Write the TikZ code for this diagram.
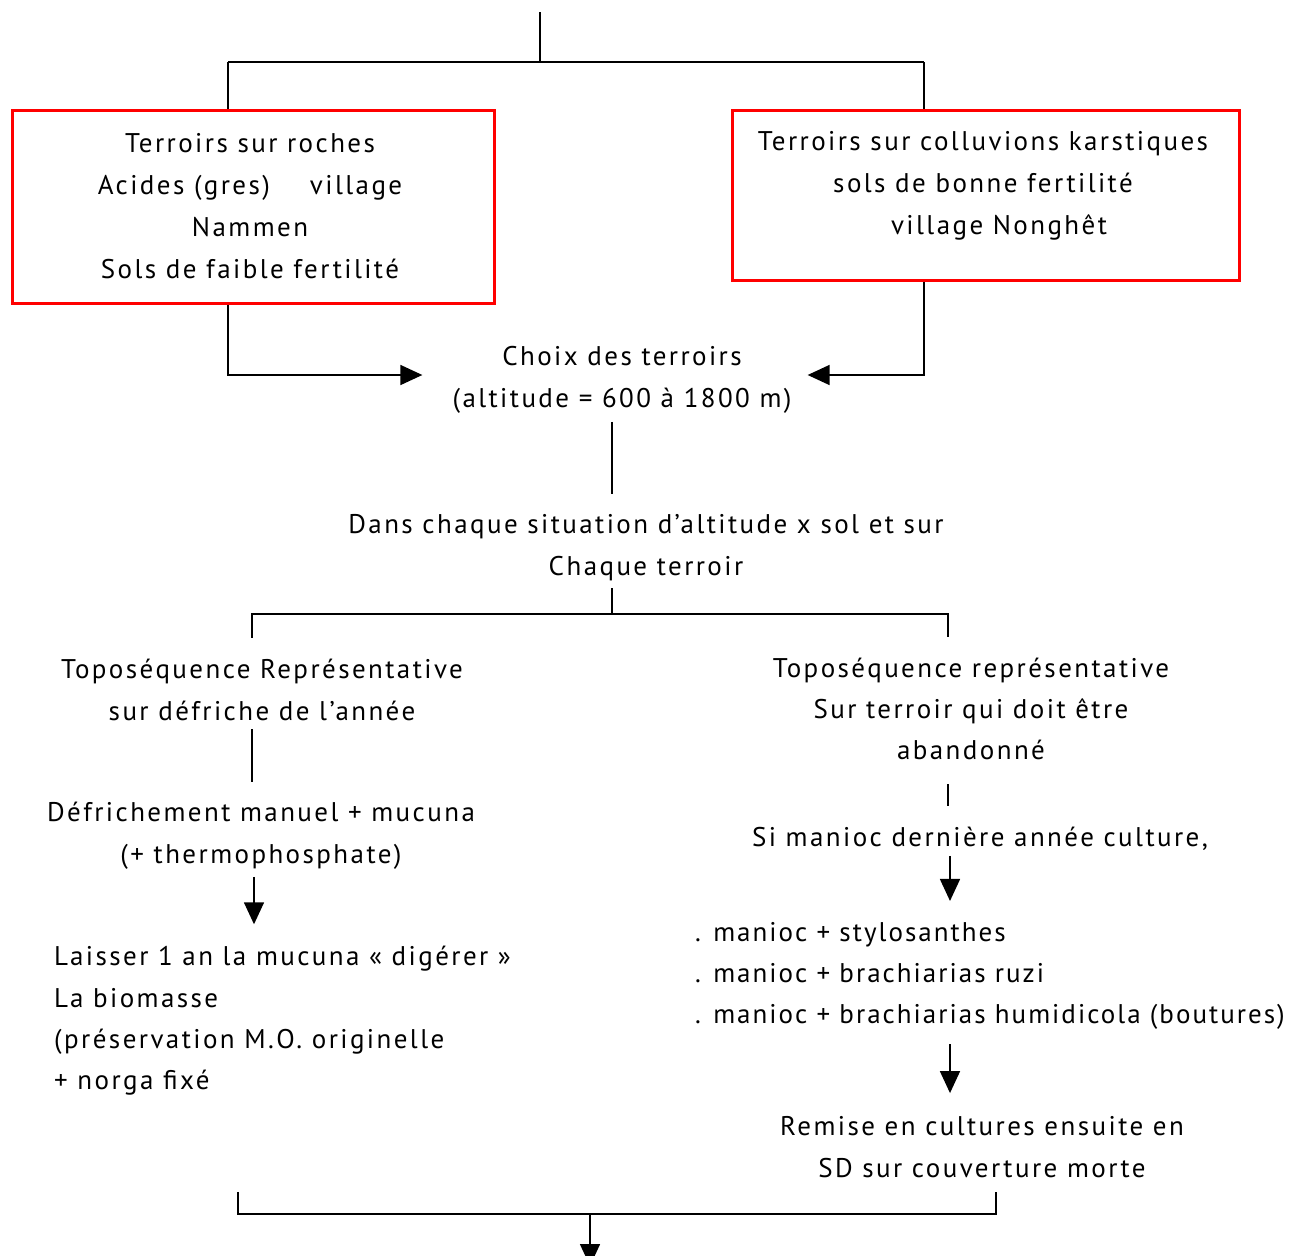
\documentclass[tikz,border=0pt]{standalone}
\usepackage{fontspec}
\setmainfont[LetterSpace=9]{PT Sans}
\newfontfamily\listfont[LetterSpace=7.5]{PT Sans}
\usetikzlibrary{arrows.meta}
\begin{document}
\begin{tikzpicture}[x=1pt,y=-1pt,
  every node/.style={inner sep=0pt},
  lbl/.style={align=center,font=\fontsize{27}{42}\selectfont},
  lst/.style={align=left,anchor=west,font=\fontsize{27}{41.3}\selectfont},
  frame/.style={draw=red,line width=3pt},
  ln/.style={line width=1.6pt},
  arr/.style={ln,-{Triangle[length=22pt,width=20pt]}}]
\useasboundingbox (0,0) rectangle (1294,1256);
\fill[white] (0,0) rectangle (1294,1256);

% red frames and their texts
\node[frame,minimum width=482pt,minimum height=193pt] (boxL) at (253,206.5) {};
\node[frame,minimum width=507pt,minimum height=170pt] (boxR) at (985.5,195) {};
\node[lbl] (tL) at (250,206) {Terroirs sur roches\\Acides (gres)\hspace{40pt}village\\Nammen\\Sols de faible fertilité};
\node[lbl] (tR) at (983,186) {Terroirs sur colluvions karstiques\\sols de bonne fertilité\\\hspace*{32pt}village Nonghêt};

% central column
\node[lbl] (choix) at (622,380) {Choix des terroirs\\(altitude = 600 à 1800 m)};
\node[lbl] (dans) at (646,548) {Dans chaque situation d’altitude x sol et sur\\Chaque terroir};

% left branch
\node[lbl] (topoL) at (262,690) {Toposéquence Représentative\\sur défriche de l’année};
\node[lbl] (defr) at (261,836) {Défrichement manuel + mucuna\\(+ thermophosphate)};
\node[lst] (laisser) at (54,1021) {Laisser 1 an la mucuna « digérer »\\La biomasse\\(préservation M.O. originelle\\+ norga fixé};

% right branch
\node[lbl,font=\fontsize{27}{41}\selectfont] (topoR) at (971,709) {Toposéquence représentative\\Sur terroir qui doit être\\abandonné};
\node[lbl] (si) at (980,839) {Si manioc dernière année culture,};
\node[lst,font=\listfont\fontsize{27}{41.3}\selectfont] (manioc) at (695,976) {. manioc + stylosanthes\\. manioc + brachiarias ruzi\\. manioc + brachiarias humidicola (boutures)};
\node[lbl] (remise) at (982,1147) {Remise en cultures ensuite en\\SD sur couverture morte};

% junction points
\coordinate (top) at (540,12);
\coordinate (jt) at (540,62);
\coordinate (jl) at (228,62);
\coordinate (jr) at (924,62);
\coordinate (sp) at (612,614);
\coordinate (kl) at (252,614);
\coordinate (kr) at (948,614);
\coordinate (ar) at (950,0);
\coordinate (bl) at (238,1214);
\coordinate (br) at (996,1214);
\coordinate (bm) at (590,1214);

% top split into the two frames
\draw[ln] (top) -- (jt);
\draw[ln] (jl) -- (jr);
\draw[ln] (jl) -- (jl |- boxL.north);
\draw[ln] (jr) -- (jr |- boxR.north);

% frames into the choice of terroirs
\draw[arr] (jl |- boxL.south) |- ([xshift=-30pt,yshift=5pt]choix.west);
\draw[arr] (jr |- boxR.south) |- ([xshift=16pt,yshift=5pt]choix.east);

% spine
\draw[ln,shorten <=8pt,shorten >=21pt] (choix.south -| sp) -- (dans.north -| sp);
\draw[ln,shorten <=7pt] (dans.south -| sp) -- (sp);
\draw[ln,shorten <=21pt,shorten >=21pt] (kl |- topoL.north) -- (kl) -- (kr) -- (kr |- topoR.north);

% left branch links
\draw[ln,shorten <=8pt,shorten >=20pt] (topoL.south -| kl) -- (defr.north -| kl);
\draw[arr,shorten <=7pt,shorten >=22pt] (defr.south -| 254,0) -- (laisser.north -| 254,0);

% right branch links
\draw[ln,shorten <=24pt,shorten >=21pt] (topoR.south -| kr) -- (si.north -| kr);
\draw[arr,shorten <=5pt,shorten >=21pt] (si.south -| ar) -- (manioc.north -| ar);
\draw[arr,shorten <=14pt,shorten >=23pt] (manioc.south -| ar) -- (remise.north -| ar);

% closing bracket
\draw[ln,shorten <=14pt,shorten >=14pt] (remise.south -| bl) -- (bl) -- (br) -- (remise.south -| br);
\draw[arr] (bm) -- ++(0,52);
\end{tikzpicture}
\end{document}
